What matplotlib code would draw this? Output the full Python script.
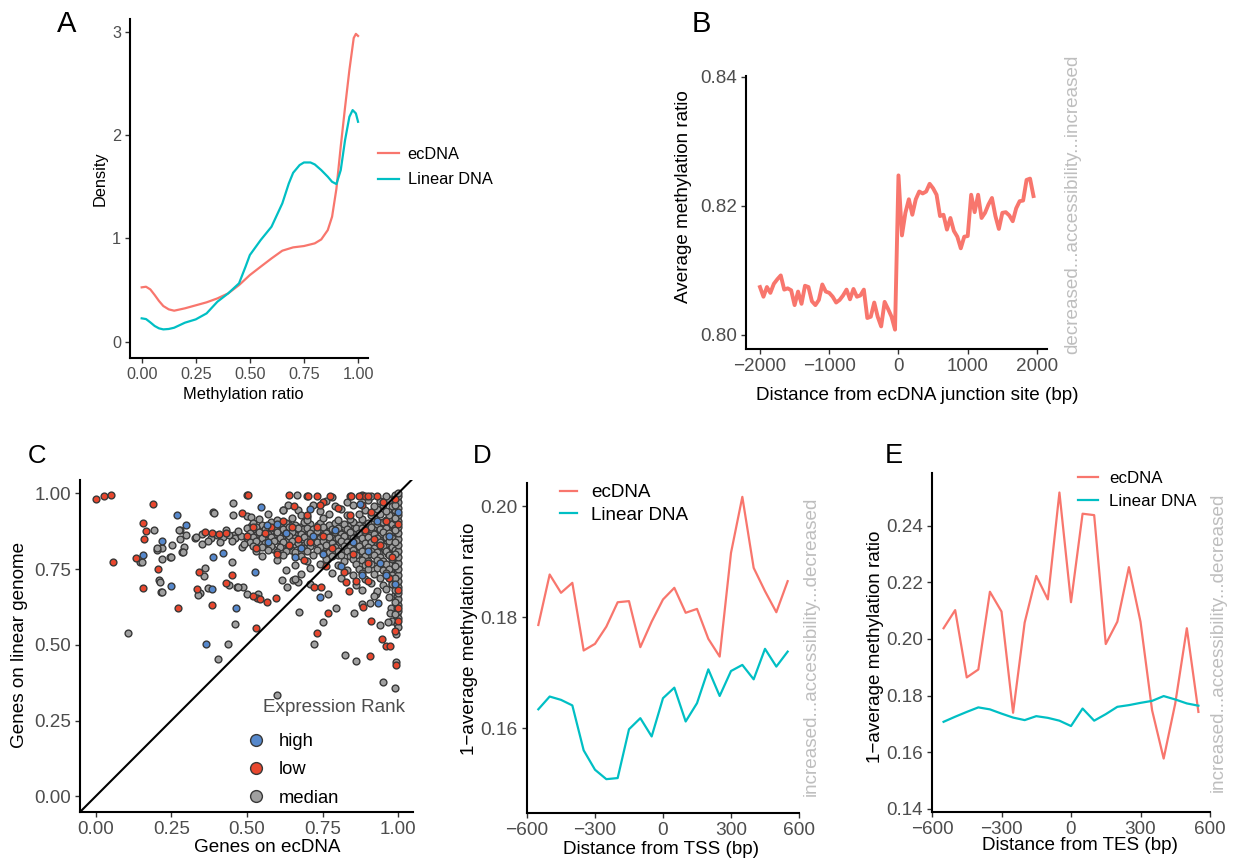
import numpy as np
import matplotlib
matplotlib.use("Agg")
import matplotlib.pyplot as plt
from matplotlib.lines import Line2D

plt.rcParams['font.family'] = ['Liberation Sans', 'DejaVu Sans']

W, H = 1239, 861
RED = '#F8766D'
CYAN = '#00BFC4'
TICK_GREY = '#4D4D4D'
NOTE_GREY = '#BEBEBE'

# ---------------- data ----------------
# A: density of methylation ratio
dens_x_ec = [0.00, 0.02, 0.04, 0.06, 0.08, 0.10, 0.125, 0.15, 0.20, 0.25, 0.30, 0.35,
             0.40, 0.45, 0.50, 0.55, 0.60, 0.65, 0.70, 0.75, 0.80, 0.83, 0.86, 0.88,
             0.90, 0.92, 0.94, 0.96, 0.98, 0.99, 1.00]
dens_ec = [0.526, 0.532, 0.506, 0.452, 0.394, 0.345, 0.313, 0.300, 0.323, 0.352, 0.381,
           0.419, 0.468, 0.548, 0.645, 0.726, 0.806, 0.881, 0.913, 0.926, 0.952, 0.99,
           1.08, 1.21, 1.48, 1.89, 2.27, 2.63, 2.94, 2.98, 2.96]
dens_x_lin = [0.00, 0.02, 0.04, 0.06, 0.08, 0.10, 0.125, 0.15, 0.20, 0.25, 0.30, 0.35,
              0.40, 0.45, 0.48, 0.50, 0.55, 0.60, 0.65, 0.68, 0.70, 0.73, 0.75, 0.78,
              0.80, 0.83, 0.86, 0.88, 0.90, 0.92, 0.94, 0.96, 0.975, 0.99, 1.00]
dens_lin = [0.226, 0.219, 0.187, 0.152, 0.129, 0.119, 0.123, 0.135, 0.184, 0.216, 0.274,
            0.387, 0.468, 0.565, 0.726, 0.839, 0.984, 1.113, 1.339, 1.532, 1.635, 1.71,
            1.735, 1.735, 1.716, 1.661, 1.597, 1.548, 1.526, 1.661, 1.952, 2.177, 2.242,
            2.21, 2.129]

# B: methylation around the ecDNA junction (50 bp bins)
junction_pos = np.arange(-2000, 2000, 50)
junction_meth = [
    0.8074, 0.8059, 0.8074, 0.8065, 0.8079, 0.8086, 0.8092, 0.8070, 0.8072, 0.8069,
    0.8046, 0.8067, 0.8048, 0.8076, 0.8074, 0.8052, 0.8046, 0.8054, 0.8078, 0.8067,
    0.8065, 0.8059, 0.8050, 0.8054, 0.8061, 0.8070, 0.8055, 0.8071, 0.8059, 0.8061,
    0.8070, 0.8026, 0.8028, 0.8050, 0.8028, 0.8013, 0.8051, 0.8040, 0.8028, 0.8008,
    0.8247, 0.8154, 0.8189, 0.8210, 0.8186, 0.8210, 0.8222, 0.8219, 0.8222, 0.8234,
    0.8227, 0.8217, 0.8184, 0.8186, 0.8163, 0.8181, 0.8161, 0.8152, 0.8134, 0.8152,
    0.8153, 0.8217, 0.8190, 0.8217, 0.8181, 0.8189, 0.8202, 0.8212, 0.8184, 0.8164,
    0.8189, 0.8190, 0.8185, 0.8176, 0.8196, 0.8207, 0.8208, 0.8240, 0.8242, 0.8215]

# D / E: 1 - methylation around TSS and TES
profile_pos = np.arange(-550, 551, 50)
tss_ec = [0.1786, 0.1877, 0.1844, 0.1862, 0.1740, 0.1752, 0.1783, 0.1827, 0.1829, 0.1746,
          0.1792, 0.1832, 0.1853, 0.1808, 0.1815, 0.1761, 0.1729, 0.1916, 0.2017, 0.1889,
          0.1847, 0.1809, 0.1865]
tss_lin = [0.1634, 0.1657, 0.1651, 0.1641, 0.1560, 0.1525, 0.1508, 0.1510, 0.1598, 0.1618,
           0.1585, 0.1654, 0.1673, 0.1612, 0.1645, 0.1706, 0.1658, 0.1703, 0.1714, 0.1688,
           0.1743, 0.1711, 0.1738]
tes_ec = [0.2038, 0.2102, 0.1864, 0.1892, 0.2167, 0.2097, 0.1739, 0.2058, 0.2223, 0.2140,
          0.2518, 0.2130, 0.2443, 0.2438, 0.1982, 0.2061, 0.2254, 0.2061, 0.1748, 0.1577,
          0.1772, 0.2038, 0.1742]
tes_lin = [0.1707, 0.1725, 0.1742, 0.1758, 0.1751, 0.1736, 0.1722, 0.1713, 0.1727, 0.1721,
           0.1711, 0.1692, 0.1754, 0.1711, 0.1734, 0.1760, 0.1766, 0.1774, 0.1781, 0.1798,
           0.1786, 0.1772, 0.1764]

# C: gene methylation, ecDNA vs linear genome
median_x = [0.108, 0.598, 0.950, 0.989, 0.825, 0.862, 0.403, 0.436, 0.460, 0.722, 0.752,
            0.796, 0.769, 0.855, 0.879, 0.906, 0.928, 0.939, 0.967, 0.972, 0.994, 0.994,
            0.673, 0.615, 0.631, 0.653, 0.670, 0.537, 0.488, 0.466, 0.442, 0.372, 0.345,
            0.216, 0.210, 0.246, 0.218, 0.193, 0.202, 0.146, 0.279, 0.279, 0.293, 0.284,
            0.389, 0.455, 0.455, 0.499, 0.515, 0.620, 0.664, 0.637, 0.670, 0.697,
            0.201, 0.218, 0.248, 0.275, 0.253, 0.288, 0.212, 0.220, 0.154, 0.392, 0.361,
            0.359, 0.339, 0.469, 0.499, 0.328, 0.350, 0.458, 0.482, 0.449,
            0.52, 0.55, 0.58, 0.61, 0.63, 0.66, 0.69, 0.71, 0.74, 0.77, 0.79, 0.82, 0.85,
            0.87, 0.90, 0.93, 0.95, 0.98,
            0.50, 0.53, 0.56, 0.59, 0.62, 0.64, 0.67, 0.70, 0.72, 0.75, 0.78, 0.80, 0.83,
            0.86, 0.88, 0.91, 0.94, 0.96, 0.99,
            0.51, 0.54, 0.57, 0.60, 0.63, 0.65, 0.68, 0.71, 0.73, 0.76, 0.79, 0.81, 0.84,
            0.87, 0.89, 0.92, 0.95, 0.97,
            0.50, 0.52, 0.55, 0.58, 0.61, 0.64, 0.66, 0.69, 0.72, 0.74, 0.77, 0.80, 0.82,
            0.85, 0.88, 0.90, 0.93, 0.96, 0.98,
            0.51, 0.53, 0.56, 0.59, 0.62, 0.65, 0.67, 0.70, 0.73, 0.75, 0.78, 0.81, 0.83,
            0.86, 0.89, 0.91, 0.94, 0.97,
            0.52, 0.55, 0.58, 0.61, 0.64, 0.68, 0.71, 0.74, 0.76, 0.79, 0.82, 0.84, 0.87,
            0.90, 0.92, 0.95, 0.98,
            0.53, 0.57, 0.60, 0.63, 0.66, 0.70, 0.73, 0.77, 0.80, 0.83, 0.85, 0.88, 0.91,
            0.93, 0.96, 0.99,
            0.55, 0.62, 0.68, 0.72, 0.78, 0.81, 0.84, 0.86, 0.89, 0.92, 0.94, 0.97,
            0.60, 0.70, 0.76, 0.82, 0.85, 0.88, 0.90, 0.93, 0.95, 0.98,
            0.66, 0.74, 0.80, 0.86, 0.89, 0.91, 0.94, 0.96, 0.99,
            0.63, 0.71, 0.83, 0.87, 0.90, 0.93, 0.95, 0.97,
            0.68, 0.78, 0.85, 0.88, 0.92, 0.96, 0.98,
            0.66, 0.81, 0.89, 0.94, 0.97,
            0.71, 0.86, 0.91, 0.95, 0.98,
            0.88, 0.93, 0.96, 0.92, 0.97,
            0.54, 0.60, 0.65, 0.70, 0.75, 0.80, 0.84, 0.88, 0.92, 0.96, 0.99,
            0.57, 0.68, 0.77, 0.83, 0.87, 0.91, 0.94, 0.97,
            0.62, 0.74, 0.81, 0.89, 0.93, 0.96, 0.99,
            0.72, 0.79, 0.85, 0.92, 0.95, 0.98,
            0.76, 0.83, 0.90, 0.94, 0.97,
            0.70, 0.78, 0.88, 0.91, 0.96, 0.99,
            1.0, 1.0, 1.0, 1.0, 1.0, 1.0, 1.0, 1.0, 1.0, 1.0, 1.0, 1.0, 1.0, 1.0, 1.0,
            1.0, 1.0, 1.0, 1.0, 1.0, 1.0, 1.0, 1.0,
            0.99, 0.99, 0.99, 0.99, 0.99, 0.99, 0.99, 0.99, 0.99, 0.99,
            0.30, 0.33, 0.35, 0.38, 0.40, 0.42, 0.44, 0.46, 0.48, 0.41, 0.45, 0.47, 0.43,
            0.37, 0.49]
median_y = [0.540, 0.334, 0.378, 0.356, 0.466, 0.447, 0.453, 0.504, 0.570, 0.502, 0.576,
            0.622, 0.667, 0.606, 0.634, 0.637, 0.667, 0.565, 0.576, 0.606, 0.537, 0.444,
            0.607, 0.714, 0.692, 0.714, 0.708, 0.667, 0.692, 0.692, 0.697, 0.686, 0.670,
            0.675, 0.714, 0.791, 0.818, 0.879, 0.813, 0.774, 0.879, 0.850, 0.822, 0.807,
            0.939, 0.967, 0.928, 0.925, 0.923, 0.945, 0.994, 0.961, 0.945, 0.923,
            0.818, 0.783, 0.791, 0.879, 0.829, 0.807, 0.708, 0.675, 0.772, 0.934, 0.752,
            0.728, 0.664, 0.691, 0.669, 0.851, 0.834, 0.862, 0.823, 0.773,
            0.903, 0.897, 0.905, 0.899, 0.902, 0.896, 0.904, 0.898, 0.901, 0.895, 0.903,
            0.899, 0.906, 0.897, 0.902, 0.898, 0.904, 0.899,
            0.884, 0.888, 0.882, 0.887, 0.883, 0.889, 0.884, 0.886, 0.881, 0.888, 0.883,
            0.887, 0.882, 0.886, 0.884, 0.889, 0.883, 0.887, 0.885,
            0.869, 0.872, 0.867, 0.871, 0.868, 0.873, 0.866, 0.870, 0.874, 0.868, 0.871,
            0.866, 0.872, 0.869, 0.873, 0.867, 0.871, 0.868,
            0.853, 0.857, 0.852, 0.856, 0.854, 0.858, 0.851, 0.855, 0.857, 0.852, 0.856,
            0.853, 0.858, 0.854, 0.851, 0.856, 0.853, 0.857, 0.852,
            0.838, 0.842, 0.837, 0.841, 0.839, 0.843, 0.836, 0.840, 0.838, 0.842, 0.837,
            0.841, 0.839, 0.843, 0.837, 0.840, 0.838, 0.842,
            0.826, 0.822, 0.827, 0.823, 0.825, 0.821, 0.826, 0.824, 0.828, 0.822, 0.826,
            0.823, 0.827, 0.824, 0.821, 0.826, 0.823,
            0.808, 0.812, 0.807, 0.811, 0.806, 0.810, 0.813, 0.807, 0.811, 0.809, 0.813,
            0.808, 0.811, 0.806, 0.810, 0.812,
            0.793, 0.797, 0.792, 0.796, 0.794, 0.798, 0.792, 0.796, 0.793, 0.797, 0.791,
            0.795,
            0.781, 0.777, 0.782, 0.778, 0.783, 0.779, 0.776, 0.781, 0.778, 0.782,
            0.763, 0.767, 0.762, 0.766, 0.764, 0.768, 0.762, 0.766, 0.763,
            0.748, 0.752, 0.747, 0.751, 0.749, 0.753, 0.747, 0.750,
            0.733, 0.737, 0.732, 0.736, 0.734, 0.738, 0.731,
            0.718, 0.722, 0.717, 0.721, 0.719,
            0.702, 0.698, 0.703, 0.699, 0.701,
            0.682, 0.678, 0.684, 0.662, 0.658,
            0.916, 0.912, 0.918, 0.913, 0.917, 0.911, 0.916, 0.914, 0.918, 0.912, 0.916,
            0.931, 0.928, 0.933, 0.929, 0.932, 0.927, 0.931, 0.929,
            0.946, 0.943, 0.947, 0.944, 0.948, 0.942, 0.946,
            0.961, 0.958, 0.963, 0.959, 0.962, 0.957,
            0.976, 0.973, 0.977, 0.974, 0.978,
            0.992, 0.989, 0.993, 0.990, 0.991, 0.994,
            0.56, 0.59, 0.61, 0.63, 0.65, 0.67, 0.69, 0.71, 0.73, 0.75, 0.77, 0.79, 0.81,
            0.83, 0.85, 0.87, 0.89, 0.91, 0.93, 0.95, 0.97, 0.99, 1.0,
            0.60, 0.64, 0.68, 0.72, 0.76, 0.80, 0.84, 0.88, 0.92, 0.96,
            0.862, 0.857, 0.866, 0.853, 0.861, 0.856, 0.864, 0.852, 0.859, 0.838, 0.842,
            0.875, 0.879, 0.842, 0.832]

# extra median points filling the dense band and the column at x ~ 1
median_dense_x = [
    0.515, 0.545, 0.575, 0.605, 0.64, 0.675, 0.705, 0.735, 0.765, 0.80, 0.835, 0.86,
    0.89, 0.92, 0.945, 0.975,
    0.525, 0.555, 0.585, 0.615, 0.655, 0.685, 0.72, 0.745, 0.775, 0.805, 0.83, 0.855,
    0.885, 0.91, 0.935, 0.965, 0.99,
    0.53, 0.565, 0.595, 0.625, 0.66, 0.695, 0.725, 0.755, 0.785, 0.815, 0.845, 0.875,
    0.905, 0.94, 0.97,
    0.535, 0.57, 0.60, 0.635, 0.67, 0.705, 0.735, 0.765, 0.795, 0.825, 0.855, 0.88,
    0.91, 0.94, 0.965, 0.99,
    0.545, 0.575, 0.615, 0.655, 0.69, 0.72, 0.755, 0.785, 0.815, 0.845, 0.875, 0.905,
    0.935, 0.96, 0.985,
    0.585, 0.645, 0.69, 0.75, 0.79, 0.82, 0.865, 0.895, 0.925, 0.95, 0.975,
    0.66, 0.75, 0.80, 0.87, 0.905, 0.935, 0.965, 0.985,
    0.98, 0.975, 0.985, 0.98, 0.975, 0.985, 0.975, 0.985, 0.975, 0.985, 0.975,
    0.997, 0.997, 0.997, 0.997, 0.997, 0.997, 0.997, 0.997, 0.997, 0.997, 0.997,
    0.997, 0.997, 0.997, 0.997, 0.997, 0.997, 0.997, 0.997, 0.997, 0.997]
median_dense_y = [
    0.893, 0.890, 0.895, 0.891, 0.894, 0.889, 0.893, 0.896, 0.890, 0.894, 0.891, 0.895,
    0.892, 0.889, 0.894, 0.891,
    0.877, 0.880, 0.875, 0.879, 0.876, 0.881, 0.874, 0.878, 0.880, 0.875, 0.879, 0.876,
    0.881, 0.877, 0.874, 0.879, 0.876,
    0.862, 0.859, 0.864, 0.860, 0.863, 0.858, 0.862, 0.865, 0.860, 0.863, 0.859, 0.864,
    0.861, 0.858, 0.863,
    0.847, 0.850, 0.845, 0.849, 0.846, 0.851, 0.844, 0.848, 0.850, 0.845, 0.849, 0.846,
    0.851, 0.847, 0.844, 0.849,
    0.832, 0.835, 0.830, 0.834, 0.831, 0.836, 0.829, 0.833, 0.835, 0.830, 0.834, 0.831,
    0.836, 0.832, 0.829,
    0.817, 0.814, 0.819, 0.815, 0.818, 0.813, 0.817, 0.820, 0.814, 0.818, 0.815,
    0.800, 0.803, 0.798, 0.802, 0.799, 0.804, 0.801, 0.797,
    0.58, 0.62, 0.66, 0.70, 0.74, 0.78, 0.82, 0.86, 0.90, 0.94, 0.98,
    0.57, 0.60, 0.62, 0.64, 0.66, 0.68, 0.70, 0.72, 0.74, 0.76, 0.78,
    0.80, 0.82, 0.84, 0.86, 0.88, 0.90, 0.92, 0.94, 0.96, 0.98]

low_x = [0.000, 0.028, 0.051, 0.058, 0.188, 0.157, 0.165, 0.160, 0.132, 0.157, 0.207,
         0.273, 0.343, 0.334, 0.384, 0.360, 0.384, 0.406, 0.430, 0.430, 0.449, 0.483,
         0.499, 0.505, 0.529, 0.532, 0.521, 0.543, 0.567, 0.596, 0.639, 0.655, 0.703,
         0.733, 0.752, 0.774, 0.840, 0.843, 0.879, 0.890, 0.901, 0.721, 0.744, 0.730,
         0.769, 0.829, 0.838, 0.884, 0.899, 0.909, 0.907, 0.948, 0.961, 0.974, 0.991,
         0.994,
         0.56, 0.62, 0.67, 0.73, 0.78, 0.84, 0.88, 0.92, 0.95, 0.98, 0.53, 0.60, 0.70,
         0.76, 0.82, 0.86, 0.90, 0.94, 0.97, 1.0, 1.0, 1.0, 1.0, 0.99, 0.65, 0.71, 0.75,
         0.80, 0.85, 0.89, 0.93, 0.96, 0.58, 0.64, 0.69, 0.74, 0.87, 0.91, 0.50, 0.52]
low_y = [0.980, 0.991, 0.993, 0.774, 0.964, 0.903, 0.877, 0.850, 0.785, 0.689, 0.749,
         0.620, 0.741, 0.684, 0.633, 0.873, 0.868, 0.866, 0.868, 0.703, 0.730, 0.936,
         0.994, 0.994, 0.557, 0.653, 0.661, 0.650, 0.642, 0.656, 0.994, 0.959, 0.992,
         0.992, 0.971, 0.992, 0.992, 0.992, 0.992, 0.991, 0.992, 0.692, 0.692, 0.540,
         0.604, 0.706, 0.678, 0.626, 0.709, 0.579, 0.463, 0.518, 0.496, 0.496, 0.546,
         0.433,
         0.87, 0.91, 0.85, 0.89, 0.82, 0.93, 0.96, 0.85, 0.97, 0.79, 0.82, 0.80, 0.93,
         0.76, 0.74, 0.71, 0.77, 0.83, 0.72, 0.68, 0.62, 0.58, 0.90, 0.98, 0.89, 0.84,
         0.86, 0.95, 0.80, 0.88, 0.99, 0.91, 0.89, 0.83, 0.78, 0.96, 0.99, 0.94, 0.86,
         0.89]

high_x = [0.268, 0.249, 0.365, 0.386, 0.464, 0.548, 0.708, 0.741, 0.932, 0.300, 0.155,
          0.220, 0.389, 0.422, 0.526, 0.565, 0.873,
          0.57, 0.63, 0.68, 0.72, 0.79, 0.85, 0.90, 0.94, 0.97, 1.0, 0.81, 0.88, 0.99,
          0.75, 0.60, 0.93, 0.96, 0.66]
high_y = [0.928, 0.695, 0.502, 0.684, 0.620, 0.956, 0.948, 0.659, 0.637, 0.895, 0.796,
          0.843, 0.791, 0.802, 0.741, 0.895, 0.966,
          0.84, 0.87, 0.82, 0.86, 0.88, 0.84, 0.81, 0.77, 0.86, 0.94, 0.76, 0.73, 0.70,
          0.80, 0.90, 0.91, 0.73, 0.79]

LOW_COL = '#E8472E'
HIGH_COL = '#5688CC'
MED_COL = '#A0A0A0'


# ---------------- helpers ----------------
def add_ax(left, right, top, bottom):
    return fig.add_axes([left / W, 1 - bottom / H, (right - left) / W, (bottom - top) / H])


def style(ax, size):
    for s in ['top', 'right']:
        ax.spines[s].set_visible(False)
    for s in ['left', 'bottom']:
        ax.spines[s].set_linewidth(1.5)
        ax.spines[s].set_color('black')
    ax.tick_params(direction='out', length=3.5, width=1, color='#333333',
                   labelcolor=TICK_GREY, labelsize=size, pad=3)


def ftext(x, y, s, **kw):
    fig.text(x / W, 1 - y / H, s, **kw)


fig = plt.figure(figsize=(W / 100, H / 100), dpi=100)

# ---------------- A ----------------
axA = add_ax(130, 368, 19, 358)
axA.plot(dens_x_ec, dens_ec, color=RED, lw=1.6, label='ecDNA')
axA.plot(dens_x_lin, dens_lin, color=CYAN, lw=1.6, label='Linear DNA')
axA.set_xlim(-0.054, 1.046)
axA.set_ylim(-0.158, 3.124)
axA.set_xticks([0, 0.25, 0.5, 0.75, 1.0])
axA.set_xticklabels(['0.00', '0.25', '0.50', '0.75', '1.00'])
axA.set_yticks([0, 1, 2, 3])
style(axA, 11.7)
axA.legend(loc='center left', bbox_to_anchor=(378 / W, 1 - 167 / H),
           bbox_transform=fig.transFigure, frameon=False, fontsize=11.8,
           handlelength=1.3, handletextpad=0.5, borderpad=0, borderaxespad=0,
           labelspacing=0.65)
ftext(243, 395, 'Methylation ratio', ha='center', va='center', fontsize=11.8)
ftext(100, 179, 'Density', ha='center', va='center', rotation=90, fontsize=11.8)
ftext(57, 32, 'A', ha='left', va='baseline', fontsize=21)

# ---------------- B ----------------
axB = add_ax(746, 1047, 76, 349)
axB.plot(junction_pos, junction_meth, color=RED, lw=2.8)
axB.set_xlim(-2202, 2145)
axB.set_ylim(0.7978, 0.8401)
axB.set_xticks([-2000, -1000, 0, 1000, 2000])
axB.set_yticks([0.80, 0.82, 0.84])
axB.set_yticklabels(['0.80', '0.82', '0.84'])
style(axB, 13.6)
ftext(917, 395, 'Distance from ecDNA junction site (bp)', ha='center', va='center',
      fontsize=13.6)
ftext(684, 197, 'Average methylation ratio', ha='center', va='center', rotation=90,
      fontsize=13.6)
ftext(1073, 204, 'decreased...accessibility...increased', ha='center', va='center',
      rotation=90, fontsize=13.6, color=NOTE_GREY)
ftext(692, 32, 'B', ha='left', va='baseline', fontsize=21)

# ---------------- C ----------------
axC = add_ax(80, 413, 480, 812)
pt_style = dict(s=24, edgecolors='#383838', linewidths=1.0)
axC.scatter(median_dense_x, median_dense_y, c=MED_COL, zorder=2, **pt_style)
axC.scatter(median_x, median_y, c=MED_COL, zorder=2, **pt_style)
axC.scatter(low_x, low_y, c=LOW_COL, zorder=3, **pt_style)
axC.scatter(high_x, high_y, c=HIGH_COL, zorder=3, **pt_style)
axC.axline((0, 0), slope=1, color='black', lw=1.5, zorder=4)
axC.set_xlim(-0.052, 1.049)
axC.set_ylim(-0.052, 1.044)
ticks = [0, 0.25, 0.5, 0.75, 1.0]
tick_labels = ['0.00', '0.25', '0.50', '0.75', '1.00']
axC.set_xticks(ticks)
axC.set_xticklabels(tick_labels)
axC.set_yticks(ticks)
axC.set_yticklabels(tick_labels)
style(axC, 13.6)
handles = [Line2D([], [], ls='none', marker='o', markersize=8.5, markerfacecolor=c,
                  markeredgecolor='#383838', markeredgewidth=1.0)
           for c in [HIGH_COL, LOW_COL, MED_COL]]
axC.legend(handles, ['high', 'low', 'median'], loc='center left',
           bbox_to_anchor=(247 / W, 1 - 770 / H), bbox_transform=fig.transFigure,
           frameon=False, fontsize=13.2, handlelength=1.0, handletextpad=0.72,
           borderpad=0, borderaxespad=0, labelspacing=0.62)
ftext(263, 708, 'Expression Rank', ha='left', va='center', fontsize=13.6, color=TICK_GREY)
ftext(267, 848, 'Genes on ecDNA', ha='center', va='center', fontsize=13.6)
ftext(20, 645, 'Genes on linear genome', ha='center', va='center', rotation=90,
      fontsize=13.6)
ftext(28, 463, 'C', ha='left', va='baseline', fontsize=18.5)

# ---------------- D ----------------
axD = add_ax(527, 799, 483, 813)
axD.plot(profile_pos, tss_ec, color=RED, lw=1.6, label='ecDNA')
axD.plot(profile_pos, tss_lin, color=CYAN, lw=1.6, label='Linear DNA')
axD.set_xlim(-600, 600)
axD.set_ylim(0.1447, 0.2042)
axD.set_xticks([-600, -300, 0, 300, 600])
axD.set_yticks([0.16, 0.18, 0.20])
axD.set_yticklabels(['0.16', '0.18', '0.20'])
style(axD, 13.8)
axD.legend(loc='center left', bbox_to_anchor=(560 / W, 1 - 504 / H),
           bbox_transform=fig.transFigure, frameon=False, fontsize=13.6,
           handlelength=0.9, handletextpad=0.75, borderpad=0, borderaxespad=0,
           labelspacing=0.3)
ftext(661, 850, 'Distance from TSS (bp)', ha='center', va='center', fontsize=13.6)
ftext(470, 639, '1\u2212average methylation ratio', ha='center', va='center',
      rotation=90, fontsize=13.6)
ftext(811, 646, 'increased...accessibility...decreased', ha='center', va='center',
      rotation=90, fontsize=13.6, color=NOTE_GREY)
ftext(473, 463, 'D', ha='left', va='baseline', fontsize=18.5)

# ---------------- E ----------------
axE = add_ax(932, 1210, 473, 812)
axE.plot(profile_pos, tes_ec, color=RED, lw=1.6, label='ecDNA')
axE.plot(profile_pos, tes_lin, color=CYAN, lw=1.6, label='Linear DNA')
axE.set_xlim(-600, 600)
axE.set_ylim(0.1388, 0.2587)
axE.set_xticks([-600, -300, 0, 300, 600])
axE.set_yticks([0.14, 0.16, 0.18, 0.20, 0.22, 0.24])
axE.set_yticklabels(['0.14', '0.16', '0.18', '0.20', '0.22', '0.24'])
style(axE, 13.6)
axE.legend(loc='center left', bbox_to_anchor=(1078 / W, 1 - 490 / H),
           bbox_transform=fig.transFigure, frameon=False, fontsize=12.2,
           handlelength=1.2, handletextpad=0.65, borderpad=0, borderaxespad=0,
           labelspacing=0.45)
ftext(1080, 846, 'Distance from TES (bp)', ha='center', va='center', fontsize=13.6)
ftext(875, 647, '1\u2212average methylation ratio', ha='center', va='center',
      rotation=90, fontsize=13.6)
ftext(1218, 642, 'increased...accessibility...decreased', ha='center', va='center',
      rotation=90, fontsize=13.6, color=NOTE_GREY)
ftext(885, 463, 'E', ha='left', va='baseline', fontsize=19.5)

fig.savefig('out.png', dpi=100)
